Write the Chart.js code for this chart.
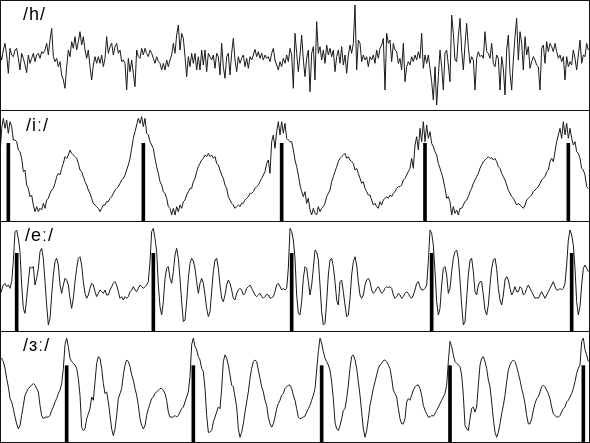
<!DOCTYPE html>
<html>
<head>
<meta charset="utf-8">
<script src="https://cdn.jsdelivr.net/npm/chart.js@4.4.1/dist/chart.umd.min.js"></script>
<style>
  body { margin: 0; background: #fff; }
  #wrap { position: relative; width: 590px; height: 443px; overflow: hidden; }
  canvas { position: absolute; left: 0; }
  .rule { position: absolute; background: #111; }
  .lab { position: absolute; font: 18px "Liberation Sans", Arial, sans-serif; letter-spacing: 1px; color: #000; }
</style>
</head>
<body>
<div id="wrap">
  <canvas id="c0" width="590" height="110" style="top:0"></canvas>
  <canvas id="c1" width="590" height="110" style="top:111px"></canvas>
  <canvas id="c2" width="590" height="110" style="top:221px"></canvas>
  <canvas id="c3" width="590" height="111" style="top:331px"></canvas>
  <div class="rule" style="left:0;top:0;width:590px;height:1px"></div>
  <div class="rule" style="left:0;top:110px;width:590px;height:1px"></div>
  <div class="rule" style="left:0;top:221px;width:590px;height:1px"></div>
  <div class="rule" style="left:0;top:331px;width:590px;height:1px"></div>
  <div class="rule" style="left:0;top:442px;width:590px;height:1px"></div>
  <div class="rule" style="left:0;top:0;width:1px;height:443px"></div>
  <div class="rule" style="left:589px;top:0;width:1px;height:443px"></div>
  <div class="lab" style="left:23px;top:4px">/h/</div>
  <div class="lab" style="left:26px;top:115px">/iː/</div>
  <div class="lab" style="left:25px;top:225px">/eː/</div>
  <div class="lab" style="left:23px;top:335px">/ɜː/</div>
</div>
<script>
// samples per panel (x axis = sample index)
const N = 354;

// /h/ - noise
const hWave = [
  5,-15,15,35,0,-55,20,0,-5,15, 20,-10,-45,5,-10,-30,-53,0,-25,-10,
  5,-20,0,5,-10,10,5,15,35,0, 45,80,-5,-20,-10,-35,-20,-60,-75,-100,
  -35,15,-5,40,20,55,15,40,70,30, 55,15,-10,15,-35,-75,-30,-5,-25,-5,
  -25,0,-35,-10,55,5,25,35,0,25, 35,5,15,-20,-15,-25,-105,-10,-50,-15,
  -55,-95,15,-5,-10,20,0,20,5,-5, 15,5,-10,-25,-5,-20,-25,-45,-25,-45,
  -15,-35,-15,0,35,5,60,90,15,65, 50,-5,-65,-5,-35,5,-25,
  5,-45,-5,-45,15,-30,15,-50,5,-5, -15,0,-40,5,-5,-60,35,-35,-70,-5,
  5,-60,5,50,-15,-50,-5,-25,-10,0, -35,-10,-40,-5,-15,0,17,-5,10,-10,
  5,-15,0,-10,-5,-20,5,20,-15,-30, -45,-20,-35,-10,-25,0,-20,20,0,-100,
  65,5,-50,0,60,-15,-65,-10,15,-110, 5,25,-75,100,5,25,-15,15,-25,30,
  0,20,-5,15,-50,-5,15,-25,25,-30, 0,-55,0,30,5,35,150,-45,45,35,
  -20,0,-15,-5,-35,-5,-15,0,-25,15, -10,20,30,50,-105,65,35,
  45,-20,35,15,10,-25,-10,-45,35,-80, -35,-20,-30,-5,-20,0,-15,10,-10,65,
  -40,0,-25,0,-40,-80,-135,-35,-150,-65, 15,-35,-105,5,15,-30,-80,120,65,-15,
  -20,55,110,15,-45,30,95,25,-25,-5, -15,-105,-10,10,-5,0,-10,70,10,5,
  -10,35,-25,-35,0,-10,-105,-5,-40,-120, 15,60,-55,-105,-15,55,110,-15,70,35,
  -45,55,0,25,-40,-20,-5,-15,-30,-35, -105,20,30,-25,40,10,35,25,10,35,
  10,-10,0,-20,-5,-75,-5,-35,-20,-30, 15,-10,-45,0,45,-25,0,-5,35,15
];

// /iː/
const iWave = [
  33,113,143,113,138,98,133,118,78,78, 73,48,43,23,-17,-12,-57,-67,-92,-87,
  -117,-137,-122,-137,-127,-132,-112,-127,-102,-97, -82,-72,-67,-52,-32,-22,-27,-7,8,28,
  23,33,48,38,33,28,23,8,-12,-17, -32,-47,-57,-72,-82,-97,-112,-117,-122,-127,
  -137,-127,-117,-117,-107,-107,-97,-92,-82,-72, -67,-62,-52,-42,-37,-27,-12,3,23,53,
  83,103,123,143,128,148,118,143,98,93, 73,63,53,23,-2,-22,-47,-57,-77,-82,
  -97,-122,-127,-147,-127,-147,-122,-137,-117,-127, -107,-102,-87,-77,-67,-67,-47,
  -37,-17,-2,8,18,23,33,28,38,28, 33,23,28,8,3,-12,-27,-37,-57,-67,
  -92,-102,-112,-117,-127,-122,-117,-122,-112,-112, -102,-97,-92,-82,-82,-77,-67,-62,-57,-47,
  -37,-27,-17,8,18,-22,73,93,53,103, 133,93,133,98,128,83,78,73,73,48,
  18,-2,-27,-57,-77,-92,-77,-112,-97,-132, -147,-127,-142,-147,-122,-137,-127,-122,-112,-92,
  -82,-72,-47,-32,-17,-2,13,23,28,33, 38,23,28,18,13,8,-12,-7,-22,-37,
  -52,-47,-67,-77,-87,-87,-102,-117,-112,-122, -127,-107,-117,-102,-97,-92,-97,
  -87,-92,-82,-77,-67,-62,-62,-57,-42,-37, -27,-17,-7,23,-7,63,88,48,113,73,
  133,73,123,83,103,68,58,43,33,8, -7,-22,-42,-67,-97,-92,-107,-147,-122,-142,
  -132,-147,-127,-127,-117,-107,-102,-92,-77,-67, -52,-42,-32,-22,-7,3,13,18,23,28,
  23,25,18,23,13,-2,-7,-22,-32,-42, -57,-72,-82,-92,-97,-107,-117,-112,-117,-122,
  -127,-117,-102,-97,-92,-87,-77,-72,-67,-62, -52,-42,-37,-32,-17,-12,13,23,13,43,
  73,93,113,83,133,93,128,83,113,83, 63,73,43,38,23,-7,-12,-27,-62,-67
];

// /eː/
const eWave = [
  -57,-42,-27,-22,-32,-27,-37,-17,43,133, 138,113,73,-27,-97,-112,-67,-17,28,23,
  28,-27,-7,23,73,83,53,-17,-87,-147, -127,-57,3,43,53,33,-27,-52,-27,-7,
  -12,-27,-67,-97,-67,-17,23,53,58,33, -17,-52,-67,-57,-37,-22,-27,-47,-62,-52,
  -42,-47,-52,-42,-57,-57,-42,-32,-22,-17, -27,-47,-67,-62,-72,-62,-67,-62,-47,-42,
  -32,-42,-47,-37,-27,-32,-37,-32,-27,-17, 43,133,143,113,73,-27,-92,-117,-77,-7,
  23,28,-7,-22,13,63,83,53,-7,-77, -137,-132,-77,-7,38,53,45,
  23,-17,-52,-22,-7,-22,-57,-97,-122,-107, -47,13,48,53,23,-27,-67,-77,-57,-27,
  -12,-22,-42,-67,-72,-52,-42,-37,-42,-57, -52,-37,-32,-27,-37,-47,-57,-62,-57,-52,
  -62,-67,-62,-55,-57,-67,-65,-62,-47,-27, -22,-32,-42,-37,-42,-37,23,143,133,108,
  53,-57,-112,-117,-77,-7,28,23,-17,-57, -27,23,78,73,48,-27,-107,-147,-142,-77,
  3,48,53,28,-17,-72,-87,-17,-12,-47, -87,-122,-117,-67,3,43,58,33,-17,-57,
  -67,-57,-27,-12,-7,-17,-42,-52,-47,-37, -32,-42,-52,-47,-37,-32,-35,
  -32,-37,-57,-67,-62,-52,-57,-67,-62,-52, -47,-52,-62,-67,-57,-42,-22,-17,-32,-42,
  -42,-37,-27,43,138,128,93,13,-77,-117, -97,-27,23,28,3,-52,-37,13,53,73,
  78,53,-12,-87,-147,-137,-67,3,48,53, 13,-47,-57,-27,-17,-17,-57,-102,-117,-87,
  -27,23,48,53,23,-37,-72,-87,-57,-12, -2,-12,-37,-57,-47,-32,-47,-47,-32,-37,
  -57,-52,-37,-27,-37,-47,-57,-67,-65,-67, -57,-47,-57,-67,-57,-47,-37,-27,-17,-32,
  -42,-42,-37,-42,-37,-22,33,108,138,123, 93,23,-77,-117,-92,-27,23,33,23,13
];

// /ɜː/
const erWave = [
  79,84,74,54,24,-1,-36,-46,-66,-91, -111,-126,-116,-86,-56,-26,-16,-6,-1,4,
  9,4,-6,-16,-56,-86,-96,-91,-91,-91, -86,-71,-61,-46,-36,-21,-11,9,54,124,
  144,119,84,74,69,64,54,24,-26,-121, -131,-126,-96,-81,-66,-31,-41,14,69,89,
  84,54,9,-21,-16,-46,-86,-126,-146,-126, -86,-36,-21,-6,34,64,79,74,59,34,
  19,-6,-26,-56,-96,-116,-126,-116,-86,-66, -51,-36,-31,-21,-16,-11,-6,-6,-11,-21,
  -41,-76,-91,-91,-91,-86,-91,-86,-76,-66, -61,-46,-31,-16,29,124,144,
  119,109,89,79,54,44,-6,-86,-136,-136, -131,-106,-91,-76,-61,-66,-6,74,94,84,
  64,34,4,-1,-31,-61,-126,-151,-136,-111, -76,-46,-16,24,54,74,79,74,49,24,
  -1,-16,-41,-56,-91,-111,-121,-111,-91,-66, -51,-41,-26,-21,-6,-1,4,4,-6,-26,
  -41,-66,-91,-96,-94,-91,-88,-76,-66,-56, -41,-26,-6,49,104,144,129,104,84,74,
  64,49,14,-36,-106,-126,-131,-116,-96,-71, -66,-36,4,54,89,94,79,54,14,-26,
  -76,-126,-151,-131,-96,-56,-31,-6,14,34, 54,64,69,77,79,74,64,
  54,24,-11,-21,-31,-66,-96,-111,-111,-96, -46,-36,-41,-26,-11,-1,4,4,-6,-26,
  -56,-71,-81,-91,-91,-86,-88,-81,-71,-61, -51,-41,-31,-21,4,74,134,119,94,74,
  69,64,59,34,-26,-116,-126,-131,-96,-66, -61,-76,-61,4,64,84,89,74,54,19,
  -1,-46,-96,-136,-151,-136,-111,-81,-56,-26, 14,49,64,74,79,74,59,39,19,-6,
  -26,-51,-86,-111,-111,-96,-71,-51,-36,-31, -16,-1,4,-1,-11,-21,-36,-61,-81,-86,
  -91,-91,-86,-76,-66,-61,-46,-41,-31,-21, -6,14,39,54,64,134,144,109,94,74
];

// pitch marks (sample index) and their heights
const iMarks = [5, 86, 169, 255, 341];
const eMarks = [10, 92, 175, 259, 343];
const erMarks = [40, 116, 193, 270, 350];
const markTops = [68, 68, 62];

function makePanel(id, wave, marks, markTop) {
  const datasets = [{
    type: 'line',
    data: wave.map((v, i) => ({ x: i, y: v })),
    borderColor: '#1a1a1a',
    borderWidth: 1,
    pointRadius: 0,
    tension: 0,
    order: 1
  }];
  if (marks) {
    datasets.push({
      type: 'bar',
      data: marks.map(m => ({ x: m, y: [-165, markTop] })),
      backgroundColor: '#000',
      barThickness: 3,
      order: 0
    });
  }
  new Chart(document.getElementById(id), {
    type: 'line',
    data: { datasets: datasets },
    options: {
      responsive: false,
      animation: false,
      devicePixelRatio: 1,
      layout: { padding: 0 },
      plugins: { legend: { display: false }, tooltip: { enabled: false } },
      scales: {
        // bars would otherwise switch on the x offset
        x: { type: 'linear', min: 0, max: N, offset: false, display: false, grid: { offset: false } },
        y: { min: -165, max: 165, display: false }
      }
    }
  });
}

makePanel('c0', hWave, null, 0);
makePanel('c1', iWave, iMarks, markTops[0]);
makePanel('c2', eWave, eMarks, markTops[1]);
makePanel('c3', erWave, erMarks, markTops[2]);
</script>
</body>
</html>
